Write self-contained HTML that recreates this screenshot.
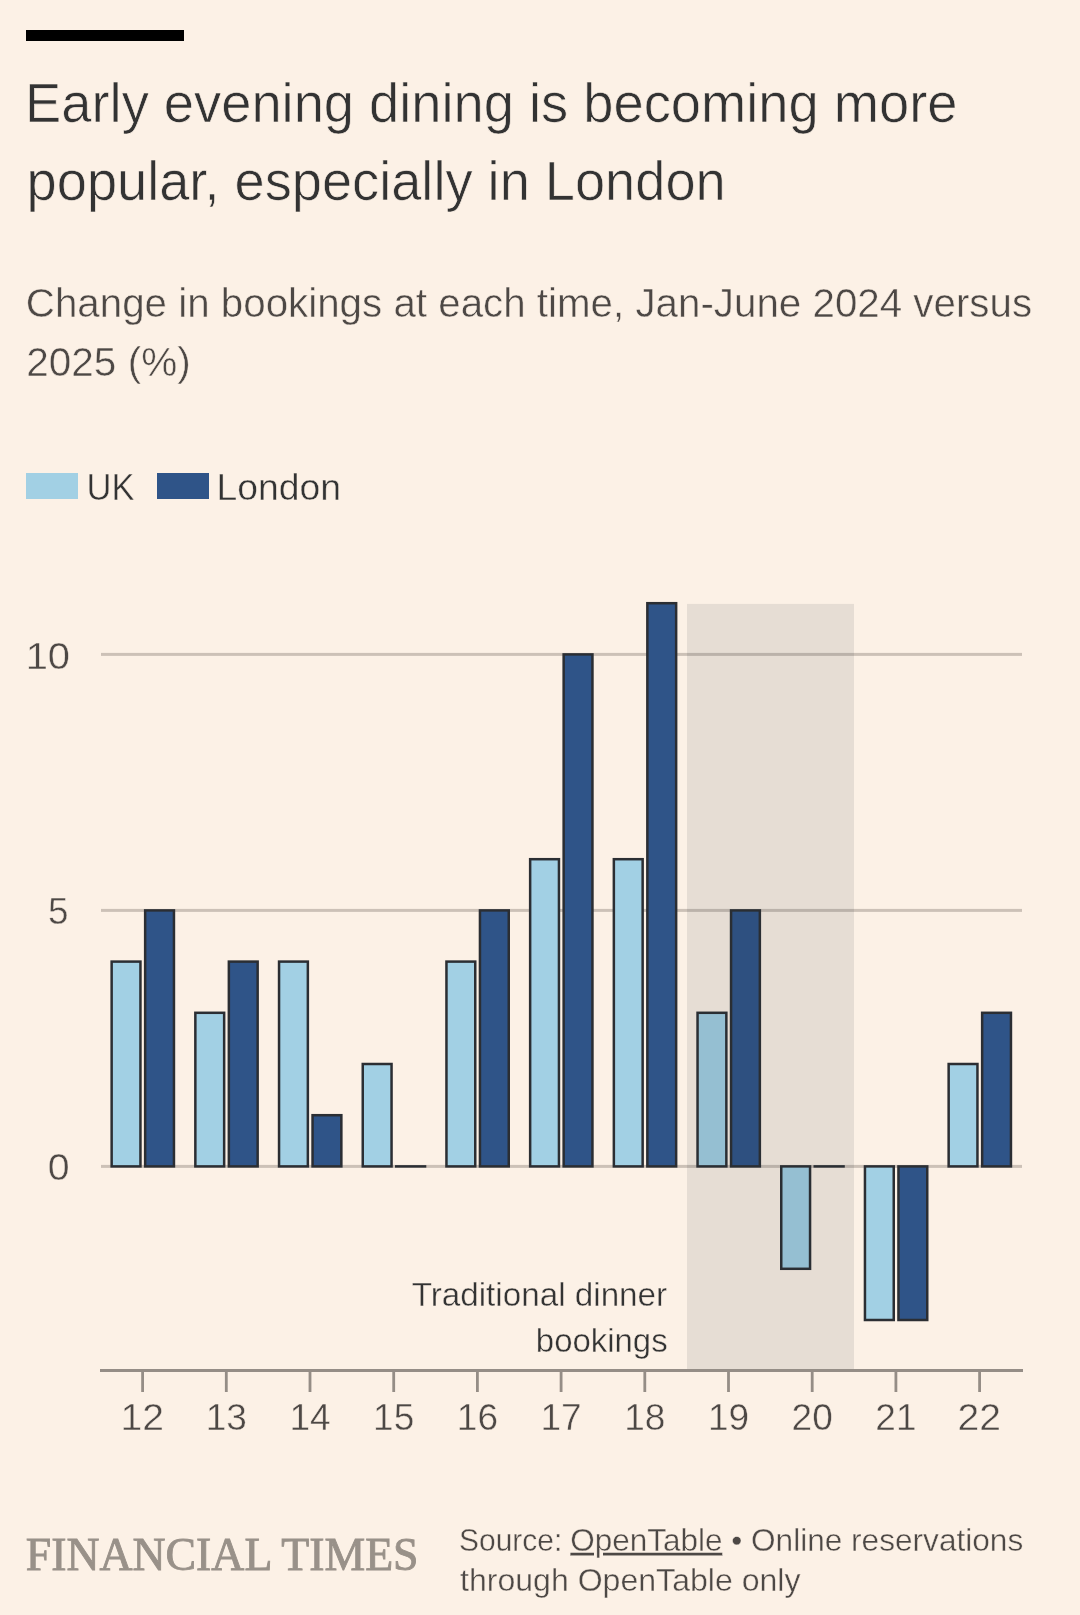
<!DOCTYPE html>
<html><head><meta charset="utf-8"><style>
html,body{margin:0;padding:0;background:#FCF1E6;}
body{width:1080px;height:1615px;overflow:hidden;}
svg{display:block;will-change:transform;}
</style></head><body>
<svg width="1080" height="1615" viewBox="0 0 1080 1615">
<rect x="0" y="0" width="1080" height="1615" fill="#FCF1E6"/>
<rect x="101" y="652.90" width="921" height="3" fill="#CCC1B7"/>
<rect x="101" y="908.90" width="921" height="3" fill="#CCC1B7"/>
<rect x="101" y="1164.90" width="921" height="3" fill="#CCC1B7"/>
<rect x="111.65" y="961.60" width="28.80" height="204.80" fill="#A2D0E4" stroke="#2B2E33" stroke-width="2.5"/>
<rect x="145.15" y="910.40" width="28.80" height="256.00" fill="#2F5488" stroke="#2B2E33" stroke-width="2.5"/>
<rect x="195.35" y="1012.80" width="28.80" height="153.60" fill="#A2D0E4" stroke="#2B2E33" stroke-width="2.5"/>
<rect x="228.85" y="961.60" width="28.80" height="204.80" fill="#2F5488" stroke="#2B2E33" stroke-width="2.5"/>
<rect x="279.05" y="961.60" width="28.80" height="204.80" fill="#A2D0E4" stroke="#2B2E33" stroke-width="2.5"/>
<rect x="312.55" y="1115.20" width="28.80" height="51.20" fill="#2F5488" stroke="#2B2E33" stroke-width="2.5"/>
<rect x="362.75" y="1064.00" width="28.80" height="102.40" fill="#A2D0E4" stroke="#2B2E33" stroke-width="2.5"/>
<rect x="395.00" y="1165.15" width="31.30" height="2.5" fill="#2B2E33"/>
<rect x="446.45" y="961.60" width="28.80" height="204.80" fill="#A2D0E4" stroke="#2B2E33" stroke-width="2.5"/>
<rect x="479.95" y="910.40" width="28.80" height="256.00" fill="#2F5488" stroke="#2B2E33" stroke-width="2.5"/>
<rect x="530.15" y="859.20" width="28.80" height="307.20" fill="#A2D0E4" stroke="#2B2E33" stroke-width="2.5"/>
<rect x="563.65" y="654.40" width="28.80" height="512.00" fill="#2F5488" stroke="#2B2E33" stroke-width="2.5"/>
<rect x="613.85" y="859.20" width="28.80" height="307.20" fill="#A2D0E4" stroke="#2B2E33" stroke-width="2.5"/>
<rect x="647.35" y="603.20" width="28.80" height="563.20" fill="#2F5488" stroke="#2B2E33" stroke-width="2.5"/>
<rect x="697.55" y="1012.80" width="28.80" height="153.60" fill="#A2D0E4" stroke="#2B2E33" stroke-width="2.5"/>
<rect x="731.05" y="910.40" width="28.80" height="256.00" fill="#2F5488" stroke="#2B2E33" stroke-width="2.5"/>
<rect x="781.25" y="1166.40" width="28.80" height="102.40" fill="#A2D0E4" stroke="#2B2E33" stroke-width="2.5"/>
<rect x="813.50" y="1165.15" width="31.30" height="2.5" fill="#2B2E33"/>
<rect x="864.95" y="1166.40" width="28.80" height="153.60" fill="#A2D0E4" stroke="#2B2E33" stroke-width="2.5"/>
<rect x="898.45" y="1166.40" width="28.80" height="153.60" fill="#2F5488" stroke="#2B2E33" stroke-width="2.5"/>
<rect x="948.65" y="1064.00" width="28.80" height="102.40" fill="#A2D0E4" stroke="#2B2E33" stroke-width="2.5"/>
<rect x="982.15" y="1012.80" width="28.80" height="153.60" fill="#2F5488" stroke="#2B2E33" stroke-width="2.5"/>
<rect x="687" y="603.9" width="167" height="767.6" fill="rgba(40,45,60,0.1)"/>
<rect x="100" y="1369" width="923" height="3" fill="#958D86"/>
<rect x="141.20" y="1371" width="2.8" height="21" fill="#958D86"/>
<rect x="224.90" y="1371" width="2.8" height="21" fill="#958D86"/>
<rect x="308.60" y="1371" width="2.8" height="21" fill="#958D86"/>
<rect x="392.30" y="1371" width="2.8" height="21" fill="#958D86"/>
<rect x="476.00" y="1371" width="2.8" height="21" fill="#958D86"/>
<rect x="559.70" y="1371" width="2.8" height="21" fill="#958D86"/>
<rect x="643.40" y="1371" width="2.8" height="21" fill="#958D86"/>
<rect x="727.10" y="1371" width="2.8" height="21" fill="#958D86"/>
<rect x="810.80" y="1371" width="2.8" height="21" fill="#958D86"/>
<rect x="894.50" y="1371" width="2.8" height="21" fill="#958D86"/>
<rect x="978.20" y="1371" width="2.8" height="21" fill="#958D86"/>
<rect x="26" y="30" width="158" height="11" fill="#000"/>
<rect x="26" y="473" width="52" height="26" fill="#A2D0E4"/>
<rect x="157" y="473" width="52" height="26" fill="#2F5488"/>
<text x="25.10" y="122.00" font-size="55" fill="#333333" style="font-family:'Liberation Sans'" stroke="#FCF1E6" stroke-width="0.66" textLength="932.38" lengthAdjust="spacingAndGlyphs">Early evening dining is becoming more</text>
<text x="26.60" y="200.00" font-size="55" fill="#333333" style="font-family:'Liberation Sans'" stroke="#FCF1E6" stroke-width="0.66" textLength="699.11" lengthAdjust="spacingAndGlyphs">popular, especially in London</text>
<text x="25.80" y="316.70" font-size="41" fill="#4D4845" style="font-family:'Liberation Sans'" stroke="#FCF1E6" stroke-width="0.49" textLength="1006.30" lengthAdjust="spacingAndGlyphs">Change in bookings at each time, Jan-June 2024 versus</text>
<text x="26.25" y="376.00" font-size="41" fill="#4D4845" style="font-family:'Liberation Sans'" stroke="#FCF1E6" stroke-width="0.49" textLength="164.43" lengthAdjust="spacingAndGlyphs">2025 (%)</text>
<text x="86.45" y="499.70" font-size="36" fill="#333333" style="font-family:'Liberation Sans'" stroke="#FCF1E6" stroke-width="0.43" textLength="48.05" lengthAdjust="spacingAndGlyphs">UK</text>
<text x="216.40" y="499.70" font-size="36" fill="#333333" style="font-family:'Liberation Sans'" stroke="#FCF1E6" stroke-width="0.43" textLength="124.50" lengthAdjust="spacingAndGlyphs">London</text>
<text x="70.10" y="668.90" font-size="37" fill="#4D4845" style="font-family:'Liberation Sans'" text-anchor="end" stroke="#FCF1E6" stroke-width="0.44" textLength="44.43" lengthAdjust="spacingAndGlyphs">10</text>
<text x="68.50" y="923.90" font-size="37" fill="#4D4845" style="font-family:'Liberation Sans'" text-anchor="end" stroke="#FCF1E6" stroke-width="0.44" textLength="20.47" lengthAdjust="spacingAndGlyphs">5</text>
<text x="69.55" y="1179.80" font-size="37" fill="#4D4845" style="font-family:'Liberation Sans'" text-anchor="end" stroke="#FCF1E6" stroke-width="0.44" textLength="21.82" lengthAdjust="spacingAndGlyphs">0</text>
<text x="142.25" y="1430.30" font-size="37" fill="#4D4845" style="font-family:'Liberation Sans'" text-anchor="middle" stroke="#FCF1E6" stroke-width="0.44" textLength="43.50" lengthAdjust="spacingAndGlyphs">12</text>
<text x="226.30" y="1430.30" font-size="37" fill="#4D4845" style="font-family:'Liberation Sans'" text-anchor="middle" stroke="#FCF1E6" stroke-width="0.44">13</text>
<text x="310.00" y="1430.30" font-size="37" fill="#4D4845" style="font-family:'Liberation Sans'" text-anchor="middle" stroke="#FCF1E6" stroke-width="0.44">14</text>
<text x="393.70" y="1430.30" font-size="37" fill="#4D4845" style="font-family:'Liberation Sans'" text-anchor="middle" stroke="#FCF1E6" stroke-width="0.44">15</text>
<text x="477.40" y="1430.30" font-size="37" fill="#4D4845" style="font-family:'Liberation Sans'" text-anchor="middle" stroke="#FCF1E6" stroke-width="0.44">16</text>
<text x="561.10" y="1430.30" font-size="37" fill="#4D4845" style="font-family:'Liberation Sans'" text-anchor="middle" stroke="#FCF1E6" stroke-width="0.44">17</text>
<text x="644.80" y="1430.30" font-size="37" fill="#4D4845" style="font-family:'Liberation Sans'" text-anchor="middle" stroke="#FCF1E6" stroke-width="0.44">18</text>
<text x="728.50" y="1430.30" font-size="37" fill="#4D4845" style="font-family:'Liberation Sans'" text-anchor="middle" stroke="#FCF1E6" stroke-width="0.44">19</text>
<text x="812.20" y="1430.30" font-size="37" fill="#4D4845" style="font-family:'Liberation Sans'" text-anchor="middle" stroke="#FCF1E6" stroke-width="0.44">20</text>
<text x="895.90" y="1430.30" font-size="37" fill="#4D4845" style="font-family:'Liberation Sans'" text-anchor="middle" stroke="#FCF1E6" stroke-width="0.44">21</text>
<text x="979.25" y="1430.30" font-size="37" fill="#4D4845" style="font-family:'Liberation Sans'" text-anchor="middle" stroke="#FCF1E6" stroke-width="0.44" textLength="43.42" lengthAdjust="spacingAndGlyphs">22</text>
<text x="667.15" y="1305.50" font-size="33" fill="#333333" style="font-family:'Liberation Sans'" text-anchor="end" stroke="#FCF1E6" stroke-width="0.40" textLength="255.48" lengthAdjust="spacingAndGlyphs">Traditional dinner</text>
<text x="667.65" y="1351.70" font-size="33" fill="#333333" style="font-family:'Liberation Sans'" text-anchor="end" stroke="#FCF1E6" stroke-width="0.40" textLength="131.80" lengthAdjust="spacingAndGlyphs">bookings</text>
<text x="25.75" y="1570.30" font-size="47" fill="#999189" style="font-family:'Liberation Serif'" stroke="#999189" stroke-width="0.9" textLength="392.84" lengthAdjust="spacingAndGlyphs">FINANCIAL TIMES</text>
<text x="459.10" y="1550.60" font-size="31.5" fill="#4D4845" style="font-family:'Liberation Sans'" stroke="#FCF1E6" stroke-width="0.38" textLength="103.19" lengthAdjust="spacingAndGlyphs">Source:</text>
<text x="570.15" y="1550.60" font-size="31.5" fill="#4D4845" style="font-family:'Liberation Sans'" stroke="#FCF1E6" stroke-width="0.38" textLength="152.29" lengthAdjust="spacingAndGlyphs"><tspan text-decoration="underline">OpenTable</tspan></text>
<text x="731.15" y="1550.60" font-size="31.5" fill="#4D4845" style="font-family:'Liberation Sans'" stroke="#FCF1E6" stroke-width="0.38" textLength="292.08" lengthAdjust="spacingAndGlyphs">• Online reservations</text>
<text x="460.00" y="1590.50" font-size="31.5" fill="#4D4845" style="font-family:'Liberation Sans'" stroke="#FCF1E6" stroke-width="0.38" textLength="340.49" lengthAdjust="spacingAndGlyphs">through OpenTable only</text>
</svg>
</body></html>
